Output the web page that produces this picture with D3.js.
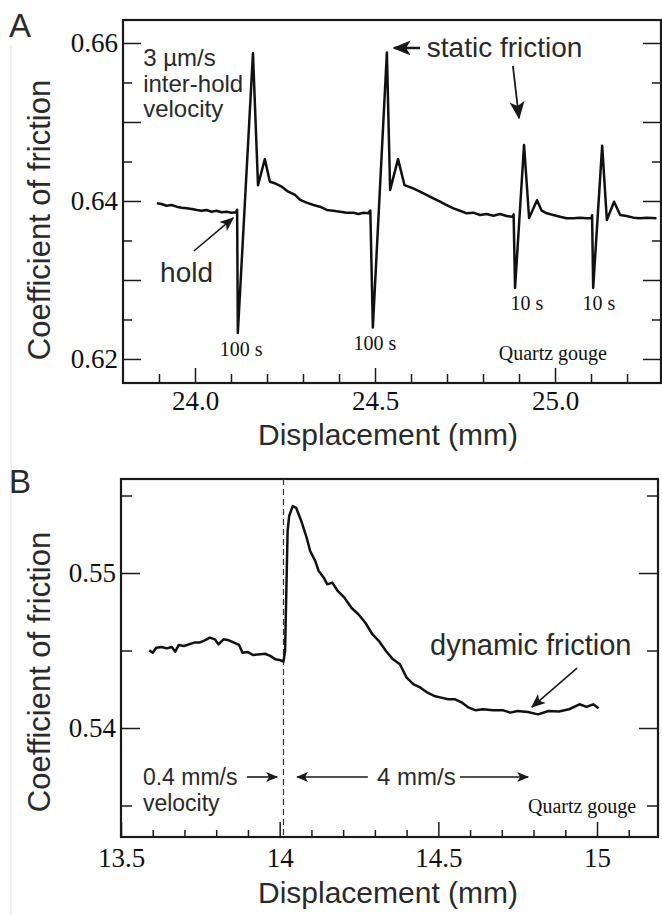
<!DOCTYPE html>
<html>
<head>
<meta charset="utf-8">
<script src="https://cdn.jsdelivr.net/npm/d3@7"></script>
<style>
body { margin: 0; background: #fff; }
svg { display: block; }
.ticklabel { font-family: "Liberation Serif", "Times New Roman", serif; }
</style>
</head>
<body>
<div id="chart"></div>
<script>
// ---- panel A : slide-hold-slide trace ----
const dispA = [23.894, 23.907, 23.921, 23.935, 23.949, 23.963, 23.977, 23.991, 24.005, 24.019,
    24.032, 24.046, 24.060, 24.074, 24.088, 24.102, 24.114, 24.117, 24.119, 24.161,
    24.175, 24.194, 24.208, 24.222, 24.241, 24.259, 24.278, 24.292, 24.310, 24.329,
    24.347, 24.366, 24.384, 24.403, 24.421, 24.440, 24.454, 24.468, 24.481, 24.487,
    24.494, 24.533, 24.542, 24.564, 24.582, 24.606, 24.625, 24.643, 24.662, 24.681,
    24.699, 24.718, 24.736, 24.755, 24.773, 24.792, 24.810, 24.829, 24.847, 24.866,
    24.882, 24.885, 24.889, 24.914, 24.928, 24.950, 24.963, 24.977, 24.995, 25.014,
    25.032, 25.051, 25.069, 25.088, 25.101, 25.103, 25.106, 25.131, 25.144, 25.164,
    25.181, 25.199, 25.218, 25.236, 25.255, 25.282];
const muA = [0.63971, 0.63962, 0.63940, 0.63949, 0.63928, 0.63915, 0.63907, 0.63899, 0.63886, 0.63877,
    0.63886, 0.63864, 0.63877, 0.63857, 0.63864, 0.63852, 0.63857, 0.63890, 0.62330, 0.65870,
    0.64200, 0.64530, 0.64244, 0.64224, 0.64181, 0.64118, 0.64076, 0.64013, 0.63979, 0.63949,
    0.63928, 0.63886, 0.63877, 0.63864, 0.63852, 0.63852, 0.63835, 0.63852, 0.63844, 0.63880,
    0.62400, 0.65880, 0.64140, 0.64530, 0.64200, 0.64160, 0.64118, 0.64076, 0.64033, 0.63991,
    0.63949, 0.63907, 0.63877, 0.63844, 0.63852, 0.63823, 0.63835, 0.63814, 0.63835, 0.63810,
    0.63801, 0.63830, 0.62900, 0.64710, 0.63785, 0.64010, 0.63877, 0.63844, 0.63823, 0.63801,
    0.63781, 0.63781, 0.63789, 0.63781, 0.63781, 0.63820, 0.62900, 0.64700, 0.63760, 0.63990,
    0.63823, 0.63810, 0.63789, 0.63781, 0.63789, 0.63781];

// ---- panel B : velocity step trace ----
const dispB = [13.589, 13.600, 13.611, 13.628, 13.644, 13.660, 13.671, 13.682, 13.698, 13.715,
    13.731, 13.747, 13.764, 13.780, 13.796, 13.807, 13.823, 13.840, 13.856, 13.872,
    13.883, 13.900, 13.916, 13.932, 13.954, 13.970, 13.987, 14.003, 14.012, 14.017,
    14.025, 14.030, 14.041, 14.052, 14.068, 14.085, 14.096, 14.112, 14.123, 14.139,
    14.150, 14.166, 14.183, 14.204, 14.226, 14.248, 14.270, 14.292, 14.313, 14.335,
    14.357, 14.379, 14.400, 14.422, 14.444, 14.466, 14.487, 14.509, 14.531, 14.553,
    14.575, 14.596, 14.618, 14.640, 14.673, 14.705, 14.727, 14.749, 14.782, 14.814,
    14.847, 14.880, 14.912, 14.945, 14.967, 14.988, 15.005];
const muB = [0.54501, 0.54486, 0.54518, 0.54523, 0.54514, 0.54523, 0.54492, 0.54536, 0.54529, 0.54540,
    0.54551, 0.54551, 0.54566, 0.54583, 0.54572, 0.54540, 0.54572, 0.54566, 0.54551, 0.54536,
    0.54486, 0.54490, 0.54471, 0.54475, 0.54479, 0.54465, 0.54443, 0.54437, 0.54428, 0.54497,
    0.55271, 0.55368, 0.55432, 0.55421, 0.55336, 0.55228, 0.55142, 0.55078, 0.55013, 0.54970,
    0.54927, 0.54938, 0.54884, 0.54841, 0.54776, 0.54734, 0.54679, 0.54605, 0.54561, 0.54497,
    0.54443, 0.54411, 0.54325, 0.54282, 0.54260, 0.54228, 0.54207, 0.54196, 0.54185, 0.54185,
    0.54163, 0.54131, 0.54114, 0.54121, 0.54114, 0.54114, 0.54099, 0.54110, 0.54103, 0.54088,
    0.54110, 0.54106, 0.54121, 0.54153, 0.54136, 0.54153, 0.54127];
const velocityStepB = 14.012;

// ---- ticks ----
const yMajorA = [0.62, 0.64, 0.66];
const yLabelsA = ["0.62", "0.64", "0.66"];
const yMidA = [0.63, 0.65];
const yMinorA = [0.625, 0.635, 0.645, 0.655];
const xMajorA = [24.0, 24.5, 25.0];
const xLabelsA = ["24.0", "24.5", "25.0"];
const xMinorA = [23.9, 24.1, 24.2, 24.3, 24.4, 24.6, 24.7, 24.8, 24.9, 25.1, 25.2];

const yMajorB = [0.54, 0.55];
const yLabelsB = ["0.54", "0.55"];
const yMinorB = [0.535, 0.545, 0.555];
const xMajorB = [13.5, 14, 14.5, 15];
const xLabelsB = ["13.5", "14", "14.5", "15"];
const xMinorB = [13.6, 13.7, 13.8, 13.9, 14.1, 14.2, 14.3, 14.4, 14.6, 14.7, 14.8, 14.9, 15.1];

const SANS = "Liberation Sans, Arial, sans-serif";
const SERIF = "Liberation Serif, Times New Roman, serif";
const INK = "#1a1a1a";

const svg = d3.select("#chart")
    .append("svg")
    .attr("width", 662)
    .attr("height", 915);

const defs = svg.append("defs");
function marker(id, w, h) {
    defs.append("marker")
        .attr("id", id)
        .attr("viewBox", "0 0 12 10")
        .attr("refX", 11)
        .attr("refY", 5)
        .attr("markerUnits", "userSpaceOnUse")
        .attr("markerWidth", w)
        .attr("markerHeight", h)
        .attr("orient", "auto")
        .append("path")
        .attr("d", "M0,0 L12,5 L0,10 L3,5 Z")
        .attr("fill", INK);
}
marker("head-big", 18, 15);
marker("head-mid", 15, 12);
marker("head-small", 13, 10);

// faint page edge line from the scan
svg.append("line")
    .attr("x1", 11).attr("x2", 11)
    .attr("y1", 45).attr("y2", 915)
    .attr("stroke", "#e4e4e4")
    .attr("stroke-width", 1.2);

function styleTicks(sel) {
    sel.attr("font-family", SERIF).attr("font-size", 27);
    sel.select(".domain").remove();
    sel.selectAll("line").attr("stroke", INK).attr("stroke-width", 1.5);
    sel.selectAll("text")
        .attr("class", "ticklabel")
        .attr("font-family", SERIF)
        .attr("font-size", 27)
        .attr("fill", "#111");
}

function drawAxes(x, y, cfg) {
    const [left, right] = x.range();
    const [bottom, top] = y.range();
    const g = svg.append("g");

    // left
    g.append("g").attr("transform", `translate(${left},0)`)
        .call(d3.axisLeft(y).tickValues(cfg.yMajor).tickSize(-cfg.yLong).tickPadding(5)
            .tickFormat((d, i) => cfg.yLabels[i]))
        .call(styleTicks);
    g.append("g").attr("transform", `translate(${left},0)`)
        .call(d3.axisLeft(y).tickValues(cfg.yMid).tickSize(-cfg.yLong).tickFormat(""))
        .call(styleTicks);
    g.append("g").attr("transform", `translate(${left},0)`)
        .call(d3.axisLeft(y).tickValues(cfg.yMinor).tickSize(-cfg.yShort).tickFormat(""))
        .call(styleTicks);

    // right
    g.append("g").attr("transform", `translate(${right},0)`)
        .call(d3.axisRight(y).tickValues(cfg.yMajor.concat(cfg.yMid)).tickSize(-cfg.yLong).tickFormat(""))
        .call(styleTicks);
    g.append("g").attr("transform", `translate(${right},0)`)
        .call(d3.axisRight(y).tickValues(cfg.yMinor).tickSize(-cfg.yShort).tickFormat(""))
        .call(styleTicks);

    // bottom
    g.append("g").attr("transform", `translate(0,${bottom})`)
        .call(d3.axisBottom(x).tickValues(cfg.xMajor).tickSize(-cfg.xLong).tickPadding(cfg.xPad)
            .tickFormat((d, i) => cfg.xLabels[i]))
        .call(styleTicks);
    g.append("g").attr("transform", `translate(0,${bottom})`)
        .call(d3.axisBottom(x).tickValues(cfg.xMinor).tickSize(-cfg.xShort).tickFormat(""))
        .call(styleTicks);

    // frame
    g.append("rect")
        .attr("x", left).attr("y", top)
        .attr("width", right - left).attr("height", bottom - top)
        .attr("fill", "none")
        .attr("stroke", INK)
        .attr("stroke-width", 2.2);

    // axis titles
    g.append("text")
        .attr("x", 388).attr("y", cfg.xTitleY)
        .attr("text-anchor", "middle")
        .attr("font-family", SANS).attr("font-size", 30)
        .attr("fill", "#2a2a2a")
        .text("Displacement (mm)");

    g.append("text")
        .attr("transform", `translate(50,${cfg.yTitleY}) rotate(-90)`)
        .attr("text-anchor", "middle")
        .attr("font-family", SANS).attr("font-size", 31)
        .attr("fill", "#2a2a2a")
        .text("Coefficient of friction");

    g.append("text")
        .attr("x", 9).attr("y", cfg.letterY)
        .attr("font-family", SANS).attr("font-size", 33)
        .attr("fill", "#2a2a2a")
        .text(cfg.letter);
}

function drawTrace(x, y, xs, ys) {
    const pts = xs.map((d, i) => [d, ys[i]]);
    svg.append("path")
        .datum(pts)
        .attr("d", d3.line().x(d => x(d[0])).y(d => y(d[1])))
        .attr("fill", "none")
        .attr("stroke", "#111")
        .attr("stroke-width", 2.5)
        .attr("stroke-linejoin", "round");
}

function note(x, y, t, opt) {
    return svg.append("text")
        .attr("x", x).attr("y", y)
        .attr("text-anchor", opt.anchor || "start")
        .attr("font-family", opt.serif ? SERIF : SANS)
        .attr("font-size", opt.size)
        .attr("fill", opt.serif ? "#111" : "#2a2a2a")
        .text(t);
}

function arrow(x1, y1, x2, y2, head, w) {
    svg.append("line")
        .attr("x1", x1).attr("y1", y1)
        .attr("x2", x2).attr("y2", y2)
        .attr("stroke", INK)
        .attr("stroke-width", w)
        .attr("marker-end", `url(#${head})`);
}

// ---------------- Panel A ----------------
const xA = d3.scaleLinear().domain([23.8, 25.2944]).range([123, 661]);
const yA = d3.scaleLinear().domain([0.61696, 0.66291]).range([383, 20]);

drawAxes(xA, yA, {
    yMajor: yMajorA, yLabels: yLabelsA, yMid: yMidA, yMinor: yMinorA,
    yLong: 18, yShort: 9,
    xMajor: xMajorA, xLabels: xLabelsA, xMinor: xMinorA,
    xLong: 15, xShort: 9, xPad: 8,
    xTitleY: 445, yTitleY: 220, letter: "A", letterY: 37
});
drawTrace(xA, yA, dispA, muA);

note(xA(23.856), yA(0.6571), "3 µm/s", { size: 24 });
note(xA(23.856), yA(0.6538), "inter-hold", { size: 24 });
note(xA(23.856), yA(0.6506), "velocity", { size: 24 });

note(xA(24.644), yA(0.65823), "static friction", { size: 28 });
arrow(xA(24.625), yA(0.65937), xA(24.553), yA(0.65937), "head-big", 2.5);
arrow(xA(24.883), yA(0.6571), xA(24.900), yA(0.6505), "head-big", 1.8);

note(xA(23.903), yA(0.62974), "hold", { size: 28 });
arrow(xA(23.997), yA(0.63367), xA(24.106), yA(0.63785), "head-mid", 1.6);

note(xA(24.128), yA(0.62038), "100 s", { size: 20, serif: true, anchor: "middle" });
note(xA(24.5), yA(0.62114), "100 s", { size: 20, serif: true, anchor: "middle" });
note(xA(24.922), yA(0.6262), "10 s", { size: 20, serif: true, anchor: "middle" });
note(xA(25.122), yA(0.6262), "10 s", { size: 20, serif: true, anchor: "middle" });
note(xA(24.994), yA(0.61987), "Quartz gouge", { size: 20, serif: true, anchor: "middle" });

// ---------------- Panel B ----------------
const xB = d3.scaleLinear().domain([13.5, 15.1922]).range([121, 658]);
const yB = d3.scaleLinear().domain([0.532968, 0.556065]).range([837, 479]);

drawAxes(xB, yB, {
    yMajor: yMajorB, yLabels: yLabelsB, yMid: [], yMinor: yMinorB,
    yLong: 19, yShort: 11,
    xMajor: xMajorB, xLabels: xLabelsB, xMinor: xMinorB,
    xLong: 15, xShort: 7, xPad: 11,
    xTitleY: 903, yTitleY: 672, letter: "B", letterY: 493
});

svg.append("line")
    .attr("x1", xB(velocityStepB)).attr("x2", xB(velocityStepB))
    .attr("y1", yB.range()[1]).attr("y2", yB.range()[0])
    .attr("stroke", "#333")
    .attr("stroke-width", 1.2)
    .attr("stroke-dasharray", "6,4");

drawTrace(xB, yB, dispB, muB);

note(xB(14.4738), yB(0.54471), "dynamic friction", { size: 29 });
arrow(xB(14.937), yB(0.54387), xB(14.795), yB(0.54135), "head-mid", 1.6);

note(xB(13.569), yB(0.53632), "0.4 mm/s", { size: 23 });
note(xB(13.569), yB(0.53464), "velocity", { size: 23 });
arrow(xB(13.897), yB(0.53684), xB(13.992), yB(0.53684), "head-small", 1.6);

arrow(xB(14.278), yB(0.53684), xB(14.055), yB(0.53684), "head-small", 1.6);
note(xB(14.307), yB(0.53632), "4 mm/s", { size: 24 });
arrow(xB(14.568), yB(0.53684), xB(14.783), yB(0.53684), "head-small", 1.6);

note(xB(14.953), yB(0.53452), "Quartz gouge", { size: 20, serif: true, anchor: "middle" });
</script>
</body>
</html>
